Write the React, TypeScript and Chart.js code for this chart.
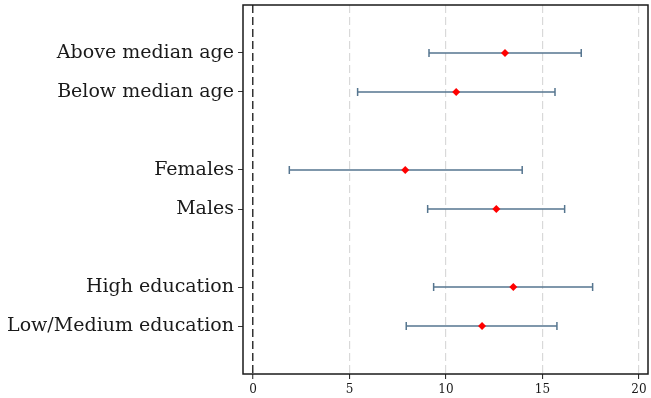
import React, { useEffect, useRef } from "react";
import { Chart, registerables } from "chart.js";

Chart.register(...registerables);

const categories = [
  "Above median age",
  "Below median age",
  "Females",
  "Males",
  "High education",
  "Low/Medium education",
];
const rowPositions = [0, 1, 3, 4, 6, 7];
const estimates = [13.06, 10.53, 7.89, 12.61, 13.49, 11.87];
const lowerCI = [9.12, 5.42, 1.88, 9.05, 9.36, 7.94];
const upperCI = [17.01, 15.65, 13.95, 16.15, 17.6, 15.75];
const xTickValues = [0, 5, 10, 15, 20];

const CI_COLOR = "#55758f";
const POINT_COLOR = "#ff0000";

const framePlugin = {
  id: "frame",
  afterDraw(chart: any) {
    const { ctx, chartArea } = chart;
    ctx.save();
    ctx.strokeStyle = "#1a1a1a";
    ctx.lineWidth = 1.5;
    ctx.strokeRect(chartArea.left, chartArea.top, chartArea.right - chartArea.left, chartArea.bottom - chartArea.top);
    ctx.restore();
  },
};

export default function App() {
  const ref = useRef<HTMLCanvasElement>(null);
  useEffect(() => {
    if (!ref.current) return;
    const ciSets = categories.map((c, i) => ({
      type: "line" as const,
      label: c + " CI",
      data: [
        { x: lowerCI[i], y: rowPositions[i] },
        { x: upperCI[i], y: rowPositions[i] },
      ],
      showLine: true,
      borderColor: CI_COLOR,
      borderWidth: 1.5,
      pointStyle: "line",
      pointRotation: 90,
      pointRadius: 4,
      pointBorderColor: CI_COLOR,
      pointBorderWidth: 1.5,
      order: 2,
    }));
    const chart = new Chart(ref.current, {
      type: "scatter",
      data: {
        datasets: [
          ...ciSets,
          {
            type: "scatter" as const,
            label: "Estimate",
            data: estimates.map((v, i) => ({ x: v, y: rowPositions[i] })),
            pointStyle: "rectRot",
            pointRadius: 4,
            backgroundColor: POINT_COLOR,
            borderColor: POINT_COLOR,
            borderWidth: 0,
            order: 1,
          },
        ] as any,
      },
      options: {
        animation: false,
        responsive: false,
        maintainAspectRatio: false,
        layout: { autoPadding: false, padding: { top: 5, right: 0, left: 0, bottom: 0 } },
        plugins: { legend: { display: false }, tooltip: { enabled: false } },
        scales: {
          x: {
            type: "linear",
            min: -0.52,
            max: 20.47,
            afterBuildTicks: (s: any) => {
              s.ticks = xTickValues.map((v) => ({ value: v }));
            },
            afterFit: (s: any) => {
              s.height = 24;
              s.paddingLeft = 0;
              s.paddingRight = 3;
            },
            ticks: {
              color: "#1a1a1a",
              font: { family: "DejaVu Serif", size: 12 },
              padding: 4,
              maxRotation: 0,
            },
            grid: {
              color: (ctx: any) => (ctx.tick && ctx.tick.value === 0 ? "#333333" : "#d9d9d9"),
              lineWidth: (ctx: any) => (ctx.tick && ctx.tick.value === 0 ? 1.5 : 1.2),
              tickColor: "#1a1a1a",
              tickLength: 5,
              tickBorderDash: [],
              tickWidth: 1,
            },
            border: { display: false, dash: [8, 4] },
          },
          y: {
            type: "linear",
            reverse: true,
            min: -1.23,
            max: 8.23,
            afterBuildTicks: (s: any) => {
              s.ticks = rowPositions.map((v) => ({ value: v }));
            },
            afterFit: (s: any) => {
              s.width = 243;
              s.paddingTop = 0;
              s.paddingBottom = 0;
            },
            ticks: {
              color: "#1a1a1a",
              font: { family: "DejaVu Serif", size: 19 },
              padding: 4,
              callback: (v: any) => {
                const idx = rowPositions.indexOf(Number(v));
                return idx >= 0 ? categories[idx] : "";
              },
            },
            grid: {
              drawOnChartArea: false,
              tickColor: "#333333",
              tickLength: 5,
              tickWidth: 1,
            },
            border: { display: false },
          },
        },
      },
      plugins: [framePlugin],
    });
    return () => chart.destroy();
  }, []);
  return (
    <div style={{ position: "absolute", left: 0, top: 0, width: 651, height: 398, background: "#fff" }}>
      <canvas ref={ref} width={651} height={398} style={{ width: 651, height: 398 }} />
    </div>
  );
}
